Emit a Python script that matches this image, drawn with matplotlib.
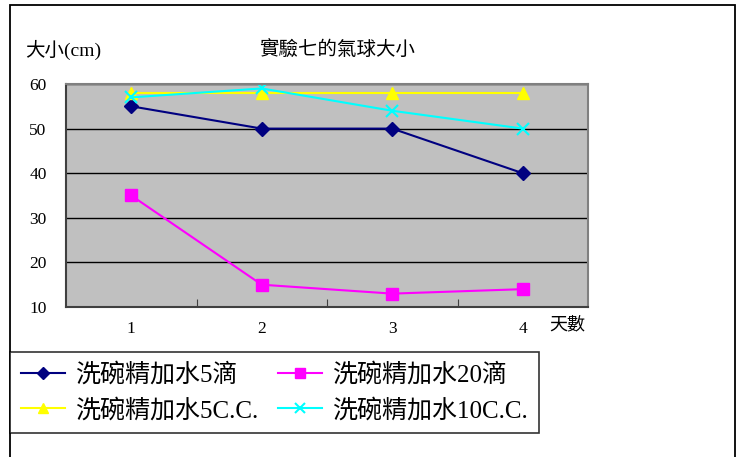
import matplotlib
matplotlib.use('Agg')
import matplotlib.pyplot as plt
from matplotlib.patches import Rectangle

plt.rcParams['font.family'] = ['Liberation Serif', 'Noto Sans CJK TC', 'DejaVu Sans']
plt.rcParams['axes.unicode_minus'] = False

# 資料
days = [1, 2, 3, 4]
day_labels = ['1', '2', '3', '4']
drops5 = [55, 50, 50, 40]
drops20 = [35, 15, 13, 14]
cc5 = [58, 58, 58, 58]
cc10 = [57, 59, 54, 50]
series_names = ['洗碗精加水5滴', '洗碗精加水20滴', '洗碗精加水5C.C.', '洗碗精加水10C.C.']

W, H = 742, 457
fig = plt.figure(figsize=(W / 100, H / 100), dpi=100)

# 外框
fig.patches.append(Rectangle((10 / W, -0.01), 725 / W, 1 - 5 / H + 0.01,
                             transform=fig.transFigure, fill=False,
                             edgecolor='black', linewidth=1.3))

ax = fig.add_axes([66 / W, 1 - 307 / H, 522 / W, 223 / H])
ax.set_facecolor('#C0C0C0')

l1, = ax.plot(days, drops5, color='#000080', marker='D', markersize=7, lw=1.5, label=series_names[0])
l2, = ax.plot(days, drops20, color='#FF00FF', marker='s', markersize=8, lw=1.5, label=series_names[1])
l3, = ax.plot(days, cc5, color='#FFFF00', marker='^', markersize=9, lw=1.5, label=series_names[2])
l4, = ax.plot(days, cc10, color='#00FFFF', marker='x', markersize=9, mew=1.5, lw=1.5, label=series_names[3])

ax.set_xlim(0.5, 4.5)
ax.set_ylim(10, 60)
ax.set_yticks([10, 20, 30, 40, 50, 60])
ax.yaxis.grid(True, color='black', linewidth=1)
ax.set_axisbelow(True)

# 類別間的刻度線
ax.set_xticks([1.5, 2.5, 3.5])
ax.set_xticklabels([])
ax.tick_params(axis='x', direction='in', length=6, color='#404040')
ax.tick_params(axis='y', length=0, labelsize=12.5, pad=14)
for d, lab in zip(days, day_labels):
    ax.text(d, -0.1, lab, transform=ax.get_xaxis_transform(),
            ha='center', va='center', fontsize=12.5)

for s in ['left', 'bottom']:
    ax.spines[s].set_color('#404040')
    ax.spines[s].set_linewidth(1.5)
for s in ['top', 'right']:
    ax.spines[s].set_color('#808080')
    ax.spines[s].set_linewidth(1.5)

fig.text(337 / W, 1 - 50 / H, '實驗七的氣球大小', ha='center', va='center', fontsize=14)
fig.text(25 / W, 1 - 50 / H, '大小(cm)', ha='left', va='center', fontsize=14)
fig.text(567 / W, 1 - 325 / H, '天數', ha='center', va='center', fontsize=13)

# 圖例：按列排列（matplotlib 依欄填入，故調整順序）
handles = [l1, l3, l2, l4]
labels = [h.get_label() for h in handles]
leg = fig.legend(handles, labels, loc='upper left', bbox_to_anchor=(10 / W, 1 - 352 / H),
                 ncol=2, fontsize=18, frameon=True, fancybox=False, borderaxespad=0,
                 handlelength=1.75, handletextpad=0.4, columnspacing=0.8,
                 labelspacing=0.45, borderpad=0.45, markerscale=0.85)
leg.get_frame().set_edgecolor('black')
leg.get_frame().set_linewidth(1.2)

fig.savefig('out.png', dpi=100)
